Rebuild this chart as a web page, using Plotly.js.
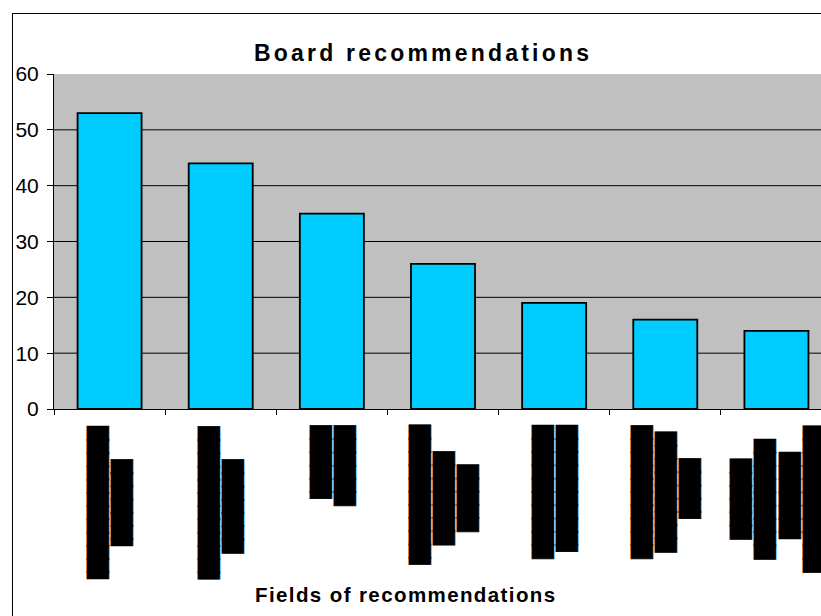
<!DOCTYPE html>
<html>
<head>
<meta charset="utf-8">
<script src="https://cdn.plot.ly/plotly-3.0.1.min.js"></script>
<style>
  html, body { margin: 0; padding: 0; background: #fff; overflow: hidden; width: 821px; height: 616px; }
  #frame { position: absolute; left: 12px; top: 13px; width: 840px; height: 640px; border-left: 1px solid #000; border-top: 1px solid #000; }
  #chart { width: 840px; height: 640px; }
  text.annotation-text[style*="DejaVu"] { letter-spacing: -1px; stroke: #000; stroke-width: 0.6px; }
  text.annotation-text[style*="23px"] { letter-spacing: 3.2px; }
  text.annotation-text[style*="20.5px"] { letter-spacing: 1.4px; }
</style>
</head>
<body>
<div id="frame"><div id="chart"></div></div>
<script>
// Category labels are unreadable in the reference (rendered as solid black bars);
// each line is reproduced as a run of block characters (lengths in half-character units).
const categoryKeys = ['Field A', 'Field B', 'Field C', 'Field D', 'Field E', 'Field F', 'Field G'];
const labelLineLengths = [
  [23, 13],
  [23, 14],
  [11, 12],
  [21, 14, 10],
  [20, 19],
  [20, 18, 9],
  [12, 18, 13, 22]
];
const values = [53, 44, 35, 26, 19, 16, 14];
const chartTitle = 'Board recommendations';
const xTitle = 'Fields of recommendations';
const yTicks = [0, 10, 20, 30, 40, 50, 60];
const gridValues = [10, 20, 30, 40, 50];

function blockLine(h) { return (h % 2 ? '\u2590' : '') + '\u2588'.repeat(Math.floor(h / 2)); }
const categoryLabels = labelLineLengths.map(ls => ls.map(blockLine).join('<br>'));

const trace = {
  type: 'bar',
  x: categoryKeys,
  y: values,
  marker: { color: '#00CCFF', line: { color: '#000000', width: 1.8 } },
  hoverinfo: 'none'
};

const annotations = [
  { text: '<b>' + chartTitle + '</b>', xref: 'paper', yref: 'paper', x: 0.4741, y: 1.064,
    xanchor: 'center', yanchor: 'middle', showarrow: false,
    font: { family: 'Liberation Sans, Arial, sans-serif', size: 23, color: '#000' } },
  { text: '<b>' + xTitle + '</b>', xref: 'paper', yref: 'paper', x: 0.4522, y: -0.5524,
    xanchor: 'center', yanchor: 'middle', showarrow: false,
    font: { family: 'Liberation Sans, Arial, sans-serif', size: 20.5, color: '#000' } }
].concat(categoryKeys.map((k, i) => ({
  text: categoryLabels[i], x: k, y: 0, xref: 'x', yref: 'y', textangle: -90,
  xanchor: 'center', yanchor: 'top', yshift: -15, showarrow: false, align: 'center', borderpad: 0,
  font: { family: 'DejaVu Sans', size: 18.5, color: '#000' }
})));

const shapes = gridValues.map(v => ({
  type: 'line', xref: 'paper', yref: 'y', x0: 0, x1: 1, y0: v, y1: v,
  line: { color: '#000', width: 1 }, layer: 'below'
}));

const layout = {
  width: 840, height: 640,
  margin: { l: 41, r: 20.6, t: 60, b: 244.7, autoexpand: false },
  paper_bgcolor: '#FFFFFF',
  plot_bgcolor: '#C0C0C0',
  showlegend: false,
  bargap: 0.424,
  xaxis: {
    type: 'category', showticklabels: false, showline: true, linecolor: '#000', linewidth: 1,
    ticks: 'outside', tickson: 'boundaries', ticklen: 5, tickcolor: '#000', tickwidth: 1,
    showgrid: false, fixedrange: true
  },
  yaxis: {
    range: [0, 60], tickvals: yTicks, showline: true, linecolor: '#000', linewidth: 1,
    ticks: 'outside', ticklen: 6, tickcolor: '#000', tickwidth: 1,
    showgrid: false, zeroline: false, ticklabelstandoff: 4,
    tickfont: { family: 'Liberation Sans, Arial, sans-serif', size: 21, color: '#000' },
    fixedrange: true
  },
  shapes: shapes,
  annotations: annotations
};

Plotly.newPlot('chart', [trace], layout, { displayModeBar: false, staticPlot: true });
</script>
</body>
</html>
